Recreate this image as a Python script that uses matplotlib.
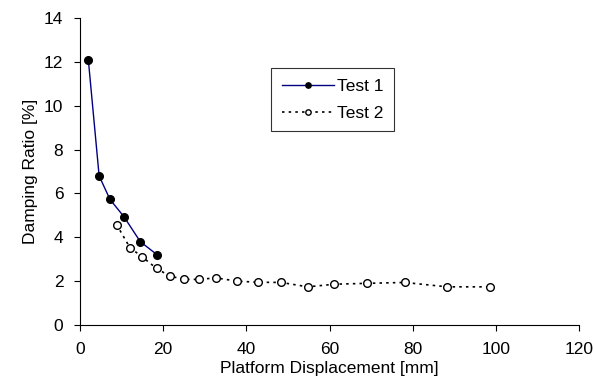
import matplotlib
matplotlib.use("Agg")
import matplotlib.pyplot as plt

plt.rcParams['font.family'] = ['Liberation Sans', 'DejaVu Sans']

# Test 1 (solid markers)
x1 = [2.0, 4.6, 7.2, 10.6, 14.5, 18.5]
y1 = [12.1, 6.8, 5.73, 4.93, 3.8, 3.21]

# Test 2 (open markers)
x2 = [8.8, 12.0, 15.0, 18.4, 21.6, 25.1, 28.7, 32.7, 37.7, 42.7, 48.4,
      54.8, 61.2, 69.0, 78.1, 88.3, 98.6]
y2 = [4.58, 3.53, 3.1, 2.58, 2.23, 2.08, 2.08, 2.15, 2.0, 1.95, 1.94,
      1.74, 1.86, 1.9, 1.94, 1.74, 1.74]

fig = plt.figure(figsize=(5.94, 3.85), dpi=100)
ax = fig.add_axes([80/594, 1-325/385, 499/594, 307/385])

ax.plot(x1, y1, color='#000080', lw=1.0, marker='o', ms=5.5,
        mfc='black', mec='black', label='Test 1')
ax.plot(x2, y2, color='black', lw=1.2, ls=(0, (1.5, 2.5)), marker='o', ms=5.5,
        mfc='white', mec='black', mew=1.0, label='Test 2')

ax.set_xlim(0, 120)
ax.set_ylim(0, 14)
ax.set_xticks(range(0, 121, 20))
ax.set_yticks(range(0, 15, 2))
ax.tick_params(direction='out', labelsize=12.5, length=4, pad=8)
ax.set_xlabel('Platform Displacement [mm]', fontsize=12.5, labelpad=3)
ax.set_ylabel('Damping Ratio [%]', fontsize=12.5, labelpad=4)
for s in ['top', 'right']:
    ax.spines[s].set_visible(False)

leg = ax.legend(loc='upper left', bbox_to_anchor=(0.383, 0.837), fontsize=12.5,
                frameon=True, fancybox=False, edgecolor='black',
                handlelength=3.0, handletextpad=0.2, markerscale=0.7,
                borderpad=0.6, labelspacing=0.7, borderaxespad=0)
leg.get_frame().set_linewidth(0.8)

fig.savefig('out.png', dpi=100)
